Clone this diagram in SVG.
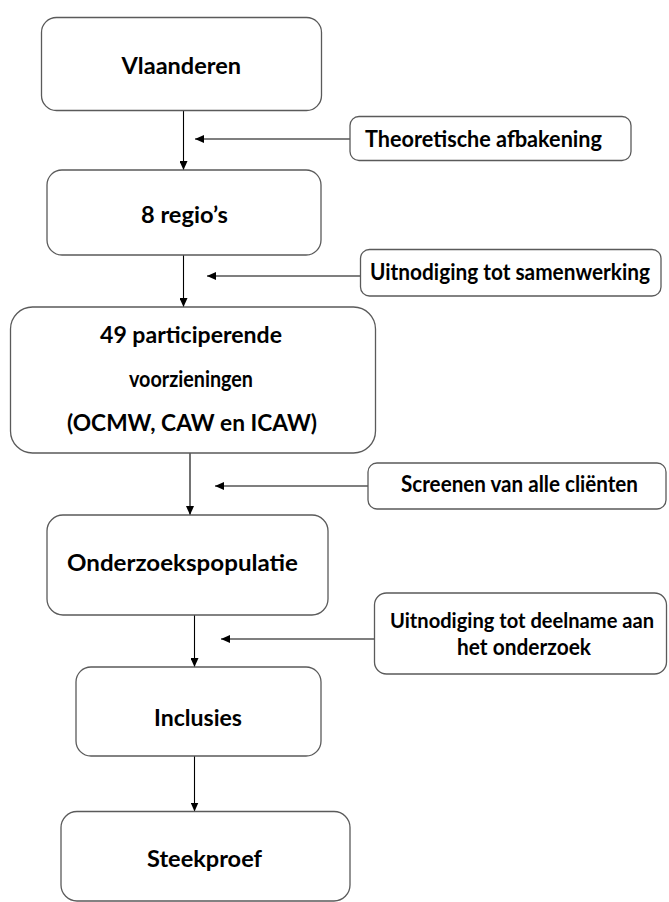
<svg xmlns="http://www.w3.org/2000/svg" width="669" height="902" viewBox="0 0 669 902">
<defs>
<marker id="ah" markerUnits="userSpaceOnUse" markerWidth="9" markerHeight="8" refX="9" refY="4" orient="auto">
<path d="M0,0 L9,4 L0,8 Z" fill="#000"/>
</marker>
<style>
.box{fill:#fff;stroke:#5a5a5a;stroke-width:1.3}
.t{font-family:Lato,"Liberation Sans",sans-serif;font-weight:bold;font-size:22px;fill:#000;text-anchor:middle}
.s{font-size:20.5px}
.c{fill:none;stroke:#000;stroke-width:1.1;marker-end:url(#ah)}
</style>
</defs>
<rect width="669" height="902" fill="#fff"/>
<g id="connectors">
<line class="c" x1="183.5" y1="110.5" x2="183.5" y2="170"/>
<line class="c" x1="350" y1="139" x2="195" y2="139"/>
<line class="c" x1="183.5" y1="255" x2="183.5" y2="307"/>
<line class="c" x1="360.5" y1="276" x2="207" y2="276"/>
<line class="c" x1="190" y1="453" x2="190" y2="515"/>
<line class="c" x1="368" y1="486" x2="215" y2="486"/>
<line class="c" x1="194.5" y1="615" x2="194.5" y2="667"/>
<line class="c" x1="374.5" y1="639" x2="221" y2="639"/>
<line class="c" x1="194.5" y1="756" x2="194.5" y2="811.5"/>
</g>
<g id="vlaanderen">
<rect class="box" x="41.5" y="17.5" width="280" height="93" rx="15"/>
<text class="t" x="181.3" y="74" textLength="119.5" lengthAdjust="spacingAndGlyphs">Vlaanderen</text>
</g>
<g id="theoretische">
<rect class="box" x="350" y="116.5" width="281" height="44" rx="9"/>
<text class="t" x="483.5" y="147" textLength="237" lengthAdjust="spacingAndGlyphs">Theoretische afbakening</text>
</g>
<g id="regios">
<rect class="box" x="47" y="170" width="274" height="85" rx="15"/>
<text class="t" x="184.5" y="223" textLength="87" lengthAdjust="spacingAndGlyphs">8 regio’s</text>
</g>
<g id="samenwerking">
<rect class="box" x="360.5" y="249.5" width="300.5" height="46.5" rx="9"/>
<text class="t" x="510" y="280" textLength="280" lengthAdjust="spacingAndGlyphs">Uitnodiging tot samenwerking</text>
</g>
<g id="voorzieningen">
<rect class="box" x="10.5" y="307" width="365" height="146" rx="22"/>
<text class="t" x="191" y="343" textLength="182" lengthAdjust="spacingAndGlyphs">49 participerende</text>
<text class="t" x="191" y="387" textLength="124" lengthAdjust="spacingAndGlyphs">voorzieningen</text>
<text class="t" x="192" y="431" textLength="250" lengthAdjust="spacingAndGlyphs">(OCMW, CAW en ICAW)</text>
</g>
<g id="screenen">
<rect class="box" x="368" y="463" width="298" height="46" rx="9"/>
<text class="t" x="519.5" y="492" textLength="237" lengthAdjust="spacingAndGlyphs">Screenen van alle cliënten</text>
</g>
<g id="onderzoekspopulatie">
<rect class="box" x="47" y="515" width="281" height="100" rx="16"/>
<text class="t" x="182.5" y="570.5" textLength="231" lengthAdjust="spacingAndGlyphs">Onderzoekspopulatie</text>
</g>
<g id="deelname">
<rect class="box" x="374.5" y="593" width="292" height="81" rx="12"/>
<text class="t s" x="522" y="628" textLength="264" lengthAdjust="spacingAndGlyphs">Uitnodiging tot deelname aan</text>
<text class="t" x="524" y="655" textLength="134" lengthAdjust="spacingAndGlyphs">het onderzoek</text>
</g>
<g id="inclusies">
<rect class="box" x="76" y="667" width="245" height="89" rx="15"/>
<text class="t" x="198" y="726" textLength="88" lengthAdjust="spacingAndGlyphs">Inclusies</text>
</g>
<g id="steekproef">
<rect class="box" x="61" y="811.5" width="289" height="89.5" rx="16"/>
<text class="t" x="204.5" y="867" textLength="115" lengthAdjust="spacingAndGlyphs">Steekproef</text>
</g>
</svg>
